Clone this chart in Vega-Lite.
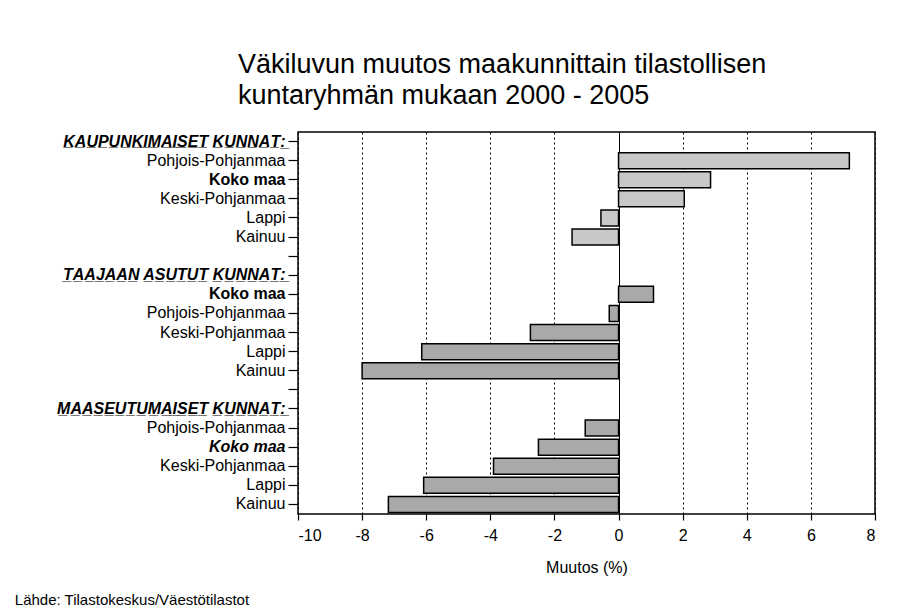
{
  "$schema": "https://vega.github.io/schema/vega-lite/v6.json",
  "background": "white",
  "padding": {"left": 14, "top": 50, "right": 5, "bottom": 5},
  "title": {
    "text": "Lähde: Tilastokeskus/Väestötilastot",
    "orient": "bottom",
    "anchor": "start",
    "fontSize": 15,
    "fontWeight": "normal",
    "font": "Liberation Sans",
    "color": "black",
    "offset": 17,
    "dx": -41
  },
  "vconcat": [
    {
      "width": 577,
      "height": 382,
      "title": {
        "text": ["Väkiluvun muutos maakunnittain tilastollisen", "kuntaryhmän mukaan 2000 - 2005"],
        "anchor": "start",
        "frame": "group",
        "dx": -60,
        "fontSize": 27,
        "fontWeight": "normal",
        "lineHeight": 31,
        "offset": 22,
        "color": "black",
        "font": "Liberation Sans"
      },
      "data": {
        "values": [
          {"key": "Pohjois-Pohjanmaa#1", "group": "KAUP", "value": 7.2},
          {"key": "Koko maa#1", "group": "KAUP", "value": 2.87},
          {"key": "Keski-Pohjanmaa#1", "group": "KAUP", "value": 2.05},
          {"key": "Lappi#1", "group": "KAUP", "value": -0.55},
          {"key": "Kainuu#1", "group": "KAUP", "value": -1.45},
          {"key": "Koko maa#2", "group": "TAAJ", "value": 1.09},
          {"key": "Pohjois-Pohjanmaa#2", "group": "TAAJ", "value": -0.29},
          {"key": "Keski-Pohjanmaa#2", "group": "TAAJ", "value": -2.75},
          {"key": "Lappi#2", "group": "TAAJ", "value": -6.14},
          {"key": "Kainuu#2", "group": "TAAJ", "value": -8.0},
          {"key": "Pohjois-Pohjanmaa#3", "group": "MAAS", "value": -1.04},
          {"key": "Koko maa#3", "group": "MAAS", "value": -2.5},
          {"key": "Keski-Pohjanmaa#3", "group": "MAAS", "value": -3.9},
          {"key": "Lappi#3", "group": "MAAS", "value": -6.08},
          {"key": "Kainuu#3", "group": "MAAS", "value": -7.18}
        ]
      },
      "layer": [
        {
          "mark": {"type": "bar", "stroke": "black", "strokeWidth": 1.5},
          "encoding": {
            "y": {
              "field": "key",
              "type": "nominal",
              "sort": null,
              "scale": {
                "domain": [
                  "KAUPUNKIMAISET KUNNAT:",
                  "Pohjois-Pohjanmaa#1", "Koko maa#1", "Keski-Pohjanmaa#1", "Lappi#1", "Kainuu#1",
                  "#g1",
                  "TAAJAAN ASUTUT KUNNAT:",
                  "Koko maa#2", "Pohjois-Pohjanmaa#2", "Keski-Pohjanmaa#2", "Lappi#2", "Kainuu#2",
                  "#g2",
                  "MAASEUTUMAISET KUNNAT:",
                  "Pohjois-Pohjanmaa#3", "Koko maa#3", "Keski-Pohjanmaa#3", "Lappi#3", "Kainuu#3"
                ],
                "paddingInner": 0.16,
                "paddingOuter": 0.08
              },
              "axis": {
                "title": null,
                "labelExpr": "indexof(datum.value, ':') >= 0 ? replace(datum.value, regexp('([^ ])', 'g'), '$1\u0332') : split(datum.value, '#')[0]",
                "labelFontSize": 16,
                "labelFont": "Liberation Sans",
                "labelColor": "black",
                "labelLimit": 400,
                "labelFontWeight": {"condition": {"test": "indexof(datum.value, ':') >= 0 || indexof(datum.value, 'Koko maa') == 0", "value": "bold"}, "value": "normal"},
                "labelFontStyle": {"condition": {"test": "indexof(datum.value, ':') >= 0 || datum.value == 'Koko maa#3'", "value": "italic"}, "value": "normal"},
                "tickSize": 10,
                "tickColor": "black",
                "tickWidth": 1.2,
                "labelPadding": 3,
                "domain": false,
                "grid": false
              }
            },
            "x": {
              "field": "value",
              "type": "quantitative",
              "scale": {"domain": [-10, 8], "nice": false, "zero": false},
              "axis": {
                "values": [-10, -8, -6, -4, -2, 0, 2, 4, 6, 8],
                "labelExpr": "'' + datum.value",
                "title": "Muutos (%)",
                "titleFontSize": 16,
                "titleFontWeight": "normal",
                "titleFont": "Liberation Sans",
                "titleColor": "black",
                "titlePadding": 16,
                "labelFontSize": 16,
                "labelFont": "Liberation Sans",
                "labelColor": "black",
                "labelPadding": 7,
                "tickSize": 6,
                "tickColor": "black",
                "tickWidth": 1.2,
                "domain": false,
                "grid": true,
                "gridColor": "black",
                "gridWidth": 1,
                "gridOpacity": 1,
                "gridDash": {"condition": {"test": "datum.value === 0", "value": []}, "value": [2, 3]}
              }
            },
            "color": {
              "field": "group",
              "type": "nominal",
              "scale": {"domain": ["KAUP", "TAAJ", "MAAS"], "range": ["#c8c8c8", "#a9a9a9", "#a9a9a9"]},
              "legend": null
            }
          }
        }
      ]
    }
  ],
  "config": {
    "font": "Liberation Sans",
    "view": {"stroke": "black", "strokeWidth": 1.5}
  }
}
